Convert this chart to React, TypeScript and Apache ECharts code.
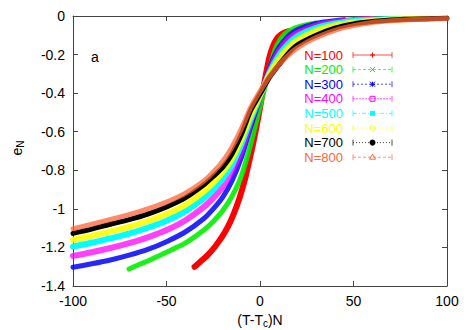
import React, { useEffect, useRef } from "react";
import * as echarts from "echarts";

// ---- data ----
const LABELS = ["N=100", "N=200", "N=300", "N=400", "N=500", "N=600", "N=700", "N=800"];
const COLORS = ["#ff0000", "#00f000", "#0000ff", "#ff00ff", "#00ffff", "#ffff00", "#000000", "#ff6633"];
const X_TICKS = [-100, -50, 0, 50, 100];
const Y_TICKS = [-1.4, -1.2, -1, -0.8, -0.6, -0.4, -0.2, 0];

const x100 = [-35, -32, -28, -24, -20, -17, -14, -11, -8, -5, -3, -1, 1, 3, 5, 7, 9, 11, 13, 15];
const y100 = [-1.3, -1.275, -1.24, -1.195, -1.14, -1.09, -1.025, -0.945, -0.845, -0.72, -0.63, -0.53, -0.42, -0.31, -0.215, -0.155, -0.118, -0.098, -0.087, -0.08];

const x200 = [-70, -65, -60, -50, -40, -30, -25, -20, -15, -10, -5, 0, 3, 5, 8, 10, 13, 17, 20, 25, 30];
const y200 = [-1.312, -1.29, -1.27, -1.225, -1.178, -1.11, -1.065, -1.01, -0.935, -0.83, -0.665, -0.47, -0.355, -0.275, -0.175, -0.135, -0.095, -0.07, -0.058, -0.045, -0.036];

const x300 = [-100, -90, -80, -70, -60, -50, -40, -30, -25, -20, -15, -10, -5, 0, 5, 10, 15, 20, 30, 40, 45];
const y300 = [-1.303, -1.285, -1.265, -1.24, -1.21, -1.17, -1.12, -1.05, -1.0, -0.94, -0.855, -0.735, -0.575, -0.425, -0.27, -0.165, -0.105, -0.07, -0.038, -0.024, -0.02];

const x400 = [-100, -90, -80, -70, -60, -50, -40, -30, -25, -20, -15, -10, -5, 0, 5, 10, 15, 20, 30, 40, 50, 60];
const y400 = [-1.244, -1.225, -1.203, -1.178, -1.148, -1.11, -1.06, -0.99, -0.943, -0.885, -0.805, -0.695, -0.55, -0.42, -0.285, -0.185, -0.125, -0.088, -0.05, -0.031, -0.021, -0.016];

const x500 = [-100, -90, -80, -70, -60, -50, -40, -30, -25, -20, -15, -10, -5, 0, 5, 10, 15, 20, 30, 40, 50, 60, 70, 75];
const y500 = [-1.196, -1.176, -1.153, -1.128, -1.098, -1.062, -1.013, -0.945, -0.9, -0.845, -0.77, -0.665, -0.535, -0.415, -0.295, -0.205, -0.145, -0.105, -0.062, -0.039, -0.026, -0.019, -0.015, -0.014];

const x600 = [-100, -90, -80, -70, -60, -50, -40, -30, -25, -20, -15, -10, -5, 0, 5, 10, 15, 20, 30, 40, 50, 60, 70, 80, 90];
const y600 = [-1.161, -1.14, -1.117, -1.093, -1.063, -1.027, -0.98, -0.91, -0.866, -0.81, -0.74, -0.64, -0.515, -0.41, -0.305, -0.225, -0.165, -0.125, -0.077, -0.049, -0.033, -0.024, -0.018, -0.015, -0.013];

const x700 = [-100, -90, -80, -70, -60, -50, -40, -30, -25, -20, -15, -10, -5, 0, 5, 10, 15, 20, 30, 40, 50, 60, 70, 80, 90, 100];
const y700 = [-1.127, -1.105, -1.08, -1.056, -1.027, -0.99, -0.943, -0.875, -0.832, -0.785, -0.715, -0.615, -0.49, -0.405, -0.32, -0.255, -0.195, -0.15, -0.1, -0.063, -0.041, -0.029, -0.021, -0.017, -0.014, -0.012];

const x800 = [-100, -90, -80, -70, -60, -50, -40, -30, -25, -20, -15, -10, -5, 0, 5, 10, 15, 20, 30, 40, 50, 60, 70, 80, 90, 100];
const y800 = [-1.103, -1.08, -1.055, -1.03, -1.0, -0.965, -0.92, -0.855, -0.81, -0.755, -0.68, -0.585, -0.475, -0.39, -0.315, -0.255, -0.205, -0.165, -0.112, -0.074, -0.05, -0.034, -0.025, -0.019, -0.015, -0.013];

const SERIES_X = [x100, x200, x300, x400, x500, x600, x700, x800];
const SERIES_Y = [y100, y200, y300, y400, y500, y600, y700, y800];

const FONT = '"Liberation Sans", Arial, sans-serif';

export default function App() {
  const ref = useRef<HTMLDivElement>(null);
  useEffect(() => {
    if (!ref.current) return;
    const chart = echarts.init(ref.current, null, { renderer: "svg" });

    const widths = [6, 5, 5, 6, 6, 6, 5, 5];
    const opac = [1, 0.9, 0.85, 0.75, 1, 0.9, 1, 0.75];
    const series: any[] = SERIES_X.map((xs, i) => ({
      type: "line",
      name: LABELS[i],
      data: xs.map((x, j) => [x, SERIES_Y[i][j]]),
      showSymbol: false,
      smooth: 0.25,
      lineStyle: { color: COLORS[i], width: widths[i], opacity: opac[i], cap: "round", join: "round" },
      z: 2 + i,
    }));

    // legend drawn as graphic (gnuplot-like error-bar samples)
    const graphic: any[] = [];
    const lx0 = 353, lx1 = 392, lxm = 372.5;
    const dashes: any[] = ["solid", [3, 2], [2, 2], [2, 1], [4, 2, 1, 2], [2, 2], [1, 2], [3, 2]];
    LABELS.forEach((lab, i) => {
      const y = 55 + i * 14.6;
      const c = COLORS[i];
      graphic.push({
        type: "text", x: 343, y,
        style: { text: lab, fill: c, fontSize: 13, lineHeight: 12, fontFamily: FONT, align: "right", verticalAlign: "middle" },
      });
      const ls = { stroke: c, lineWidth: 1, opacity: 0.7, lineDash: dashes[i] === "solid" ? null : dashes[i] };
      graphic.push({ type: "line", shape: { x1: lx0, y1: y, x2: lx1, y2: y }, style: ls });
      graphic.push({ type: "line", shape: { x1: lx0, y1: y - 3, x2: lx0, y2: y + 3 }, style: { stroke: c, lineWidth: 1, opacity: 0.7 } });
      graphic.push({ type: "line", shape: { x1: lx1, y1: y - 3, x2: lx1, y2: y + 3 }, style: { stroke: c, lineWidth: 1, opacity: 0.7 } });
      const ms = { stroke: c, lineWidth: 1, fill: "none" };
      const r = 2.5;
      if (i === 0 || i === 2) {
        graphic.push({ type: "line", shape: { x1: lxm - r, y1: y, x2: lxm + r, y2: y }, style: ms });
        graphic.push({ type: "line", shape: { x1: lxm, y1: y - r, x2: lxm, y2: y + r }, style: ms });
      }
      if (i === 1 || i === 2) {
        graphic.push({ type: "line", shape: { x1: lxm - r, y1: y - r, x2: lxm + r, y2: y + r }, style: ms });
        graphic.push({ type: "line", shape: { x1: lxm - r, y1: y + r, x2: lxm + r, y2: y - r }, style: ms });
      }
      if (i === 3) graphic.push({ type: "rect", shape: { x: lxm - r, y: y - r, width: 2 * r, height: 2 * r }, style: ms });
      if (i === 4) graphic.push({ type: "rect", shape: { x: lxm - r, y: y - r, width: 2 * r, height: 2 * r }, style: { fill: c } });
      if (i === 5) graphic.push({ type: "circle", shape: { cx: lxm, cy: y, r }, style: ms });
      if (i === 6) graphic.push({ type: "circle", shape: { cx: lxm, cy: y, r: 3 }, style: { fill: c } });
      if (i === 7) graphic.push({ type: "polygon", shape: { points: [[lxm, y - 3], [lxm - 3, y + 2], [lxm + 3, y + 2]] }, style: ms });
    });

    graphic.push({
      type: "text", x: 95, y: 57,
      style: { text: "a", fill: "#000", fontSize: 14, fontFamily: FONT, align: "center", verticalAlign: "middle" },
    });
    graphic.push({
      type: "text", x: 260, y: 320,
      style: {
        text: "{m|(T-T}{s|c}{m|)N}",
        align: "center", verticalAlign: "middle",
        rich: {
          m: { fontSize: 14, fontFamily: FONT, fill: "#000", lineHeight: 16 },
          s: { fontSize: 10, fontFamily: FONT, fill: "#000", lineHeight: 16, padding: [7, 0, 0, 0] },
        },
      },
    });
    graphic.push({
      type: "text", x: 17, y: 148, rotation: Math.PI / 2,
      style: {
        text: "{m|e}{s|N}",
        align: "center", verticalAlign: "middle",
        rich: {
          m: { fontSize: 14, fontFamily: FONT, fill: "#000", lineHeight: 16 },
          s: { fontSize: 10, fontFamily: FONT, fill: "#000", lineHeight: 16, padding: [7, 0, 0, 0] },
        },
      },
    });

    const axisLine = { show: true, onZero: false, lineStyle: { color: "#444", width: 1 } };
    const tick = { show: true, inside: true, length: 5, lineStyle: { color: "#444" } };
    const lbl = { color: "#000", fontSize: 14, fontFamily: FONT };

    chart.setOption({
      animation: false,
      grid: { left: 73, right: 24, top: 16, bottom: 44, containLabel: false },
      xAxis: [
        {
          type: "value", position: "bottom", min: X_TICKS[0], max: X_TICKS[X_TICKS.length - 1], interval: 50,
          axisLine, axisTick: tick, splitLine: { show: false },
          axisLabel: { ...lbl, margin: 8 },
        },
        {
          type: "value", position: "top", min: X_TICKS[0], max: X_TICKS[X_TICKS.length - 1], interval: 50,
          axisLine, axisTick: tick, splitLine: { show: false }, axisLabel: { show: false },
        },
      ],
      yAxis: [
        {
          type: "value", position: "left", min: Y_TICKS[0], max: Y_TICKS[Y_TICKS.length - 1], interval: 0.2,
          axisLine, axisTick: tick, splitLine: { show: false },
          axisLabel: { ...lbl, margin: 8, formatter: (v: number) => String(Math.round(v * 10) / 10) },
        },
        {
          type: "value", position: "right", min: Y_TICKS[0], max: Y_TICKS[Y_TICKS.length - 1], interval: 0.2,
          axisLine, axisTick: tick, splitLine: { show: false }, axisLabel: { show: false },
        },
      ],
      series,
      graphic,
    });
    return () => chart.dispose();
  }, []);
  return (
    <div
      ref={ref}
      style={{ position: "fixed", left: 0, top: 0, width: 471, height: 330, background: "#fff" }}
    />
  );
}
